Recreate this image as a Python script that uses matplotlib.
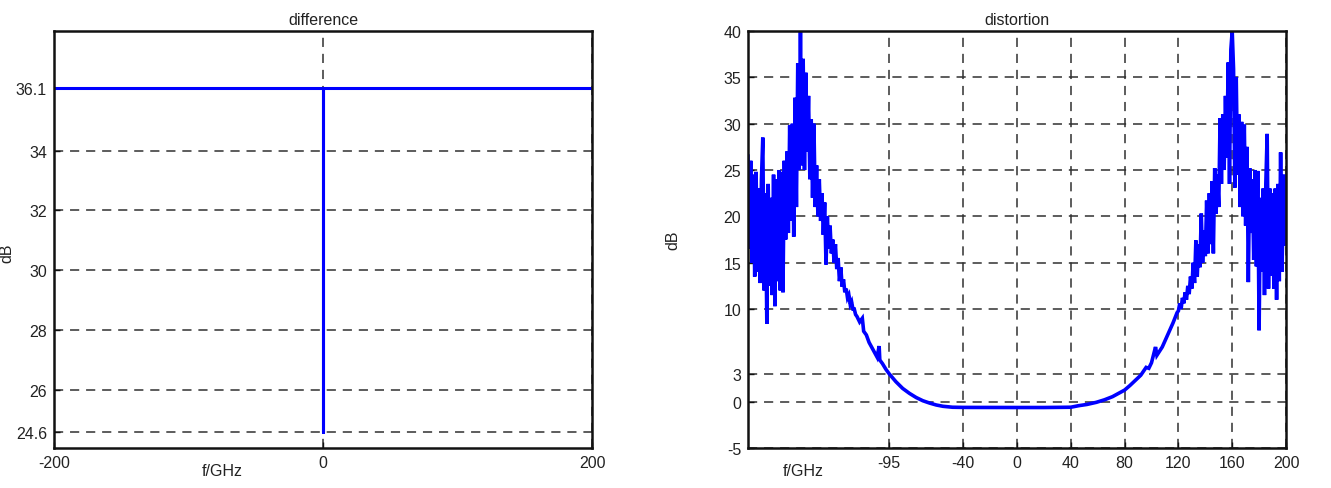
import numpy as np
import matplotlib
matplotlib.use("Agg")
import matplotlib.pyplot as plt

plt.rcParams['font.family'] = ['Liberation Sans', 'DejaVu Sans']
plt.rcParams['axes.unicode_minus'] = False

# ---------------- data: left panel ("difference") ----------------
diff_freq = [-200, 0, 0, 0, 200]
diff_db = [36.1, 36.1, 24.6, 36.1, 36.1]
diff_yticks = [24.6, 26, 28, 30, 32, 34, 36.1]
diff_xticks = [-200, 0, 200]

# ---------------- data: right panel ("distortion") ----------------
# noisy left wing, one sample per GHz from -200 to -120
left_wing_freq = np.arange(-200, -119, 1)
left_wing_db = [
    26.5, 16.5, 26.0, 15.0, 24.5, 13.5, 24.8, 14.0, 23.0, 12.8,
    24.0, 28.5, 12.0, 22.5, 8.4, 23.5, 12.5, 22.0, 11.5, 24.5,
    10.3, 24.0, 13.0, 25.0, 12.0, 24.8, 11.8, 26.0, 17.5, 27.0,
    18.2, 29.8, 19.5, 30.0, 17.8, 32.8, 21.0, 36.5, 25.0, 40.0,
    25.5, 37.0, 25.0, 35.5, 27.0, 33.0, 24.0, 30.5, 22.0, 30.0,
    21.0, 25.5, 20.0, 24.0, 19.5, 22.5, 18.0, 21.5, 14.8, 20.0,
    16.5, 19.0, 16.0, 17.5, 15.0, 17.0, 14.3, 15.5, 13.0, 14.5,
    12.4, 13.2, 11.8, 12.2, 11.2, 11.5, 10.5, 10.8, 10.0, 10.0,
    9.4,
]
# smooth centre part
mid_freq = [-119, -117, -115, -114, -112, -110, -107, -104, -102.5, -102,
            -100, -97.5, -95, -90, -85, -80, -75, -70, -65, -60,
            -55, -48, -40, -20, 0, 20, 40, 46, 52, 59,
            65, 71, 75, 80, 84, 88, 92, 96, 98, 100,
            103, 104, 108, 112, 116, 119]
mid_db = [9.2, 8.6, 9.0, 7.6, 7.2, 6.4, 5.6, 4.8, 6.0, 4.5,
          4.1, 3.5, 3.0, 2.15, 1.43, 0.9, 0.45, 0.1, -0.15, -0.36,
          -0.5, -0.6, -0.62, -0.63, -0.63, -0.63, -0.6, -0.43, -0.3, -0.07,
          0.2, 0.54, 0.85, 1.25, 1.75, 2.3, 2.85, 3.7, 3.6, 4.2,
          5.9, 5.0, 5.9, 7.2, 8.5, 9.6]
# noisy right wing, one sample per GHz from 120 to 200
right_wing_freq = np.arange(120, 201, 1)
right_wing_db = [
    9.8, 10.6, 10.0, 11.2, 10.6, 11.8, 11.0, 12.5, 11.6, 13.5,
    12.2, 15.0, 12.8, 17.4, 13.5, 17.0, 14.5, 20.3, 15.0, 18.5,
    15.7, 21.7, 16.0, 22.5, 17.0, 23.8, 16.0, 25.2, 20.3, 24.5,
    21.0, 30.6, 23.5, 31.0, 25.0, 33.0, 26.3, 36.6, 23.5, 38.0,
    40.0, 35.9, 23.1, 35.0, 24.5, 31.0, 21.0, 30.2, 20.0, 29.9,
    19.0, 27.5, 12.9, 25.2, 18.2, 24.0, 15.3, 25.0, 14.6, 24.9,
    7.7, 22.0, 14.0, 23.0, 11.5, 23.5, 28.9, 12.2, 23.0, 13.6,
    22.5, 12.2, 23.0, 11.0, 23.5, 13.0, 26.9, 14.0, 22.0, 24.5,
    17.0,
]
dist_xticks = [-95, -40, 0, 40, 80, 120, 160, 200]
dist_yticks = [-5, 0, 3, 10, 15, 20, 25, 30, 35, 40]

dist_freq = np.concatenate([left_wing_freq, mid_freq, right_wing_freq])
dist_db = np.concatenate([left_wing_db, mid_db, right_wing_db])

# ---------------- figure ----------------
W, H = 1331, 489
fig = plt.figure(figsize=(W / 100, H / 100), dpi=100)

def px_axes(x0, x1, y0, y1):
    return fig.add_axes([x0 / W, 1 - y1 / H, (x1 - x0) / W, (y1 - y0) / H])

ax1 = px_axes(54, 592, 32, 449)
ax2 = px_axes(748, 1286, 32, 449)

text_col = '#222222'
fs = 11.5
grid_kw = dict(color='#303030', linestyle=(0, (6, 4.5)), linewidth=1.1)

for ax in (ax1, ax2):
    for s in ax.spines.values():
        s.set_linewidth(1.8)
        s.set_color('#111111')
    ax.tick_params(direction='in', length=4, width=1, colors='#111111',
                   labelsize=fs, labelcolor=text_col, pad=5)
    ax.set_axisbelow(True)

# left panel
ax1.plot(diff_freq, diff_db, color='#0000ff', linewidth=2.2)
ax1.set_xlim(-200, 200)
ax1.set_ylim(24.05, 38.0)
ax1.set_xticks(diff_xticks)
ax1.set_yticks(diff_yticks)
ax1.set_yticklabels([f"{v:g}" for v in diff_yticks])
ax1.grid(True, **grid_kw)
ax1.set_title('difference', fontsize=fs, color=text_col, pad=5)
ax1.set_xlabel('f/GHz', fontsize=fs, color=text_col)
ax1.xaxis.set_label_coords((222 - 54) / (592 - 54), -0.035)
ax1.set_ylabel('dB', fontsize=fs, color=text_col)
ax1.yaxis.set_label_coords(-(54 - 14) / (592 - 54), 0.47)

# right panel
ax2.plot(dist_freq, dist_db, color='#0000ff', linewidth=2.6,
         solid_joinstyle='miter')
ax2.set_xlim(-200, 200)
ax2.set_ylim(-5, 40)
ax2.set_xticks(dist_xticks)
ax2.set_yticks(dist_yticks)
ax2.grid(True, **grid_kw)
ax2.set_title('distortion', fontsize=fs, color=text_col, pad=5)
ax2.set_xlabel('f/GHz', fontsize=fs, color=text_col)
ax2.xaxis.set_label_coords((803 - 748) / (1286 - 748), -0.035)
ax2.set_ylabel('dB', fontsize=fs, color=text_col)
ax2.yaxis.set_label_coords(-(748 - 680) / (1286 - 748), 0.5)

fig.savefig('out.png', dpi=100)
